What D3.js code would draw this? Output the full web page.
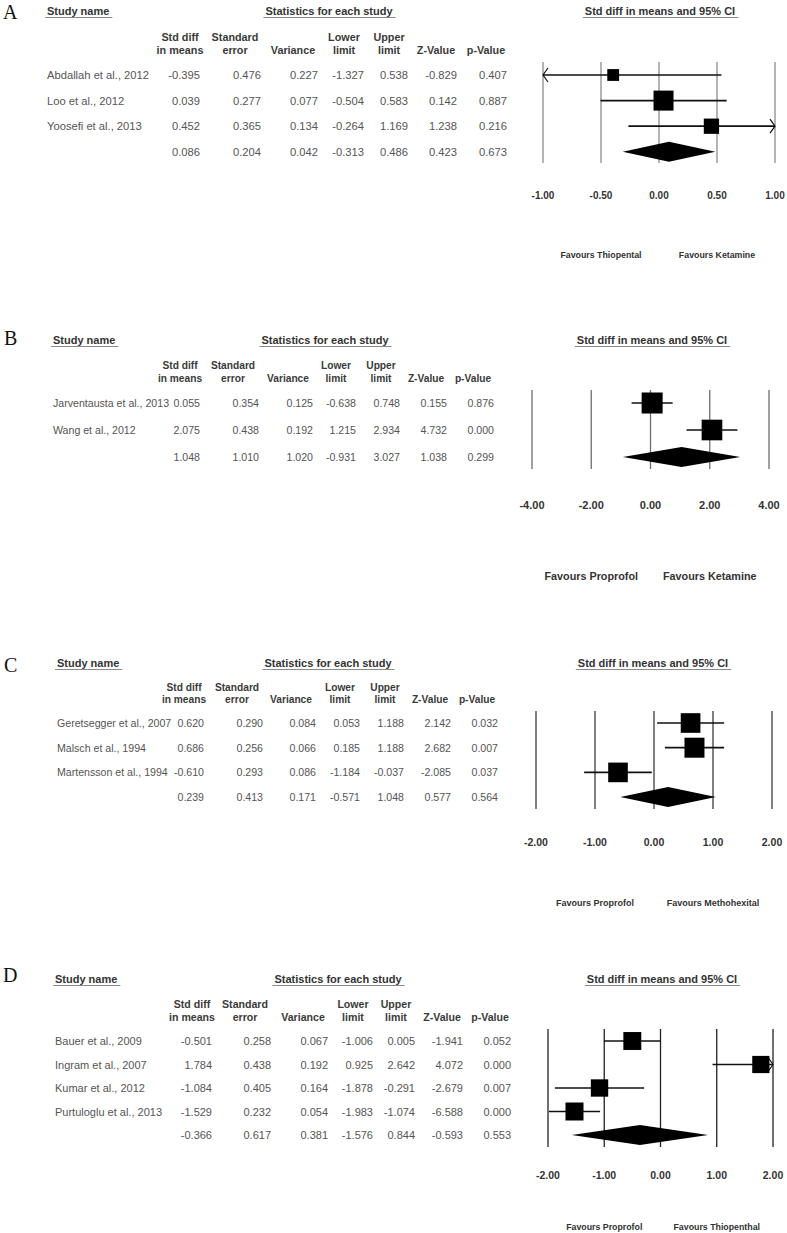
<!DOCTYPE html>
<html><head><meta charset="utf-8">
<script src="https://cdn.jsdelivr.net/npm/d3@7"></script>
<style>body{margin:0;background:#fff}</style></head>
<body><svg id="c" width="787" height="1233"></svg>
<script>
// ---------- DATA ----------
const headerLine1 = ["Std diff","Standard","","Lower","Upper","",""];
const headerLine2 = ["in means","error","Variance","limit","limit","Z-Value","p-Value"];
const studyHeader = "Study name";
const statsHeader = "Statistics for each study";
const plotHeader = "Std diff in means and 95% CI";

// Panel A
const namesA = ["Abdallah et al., 2012","Loo et al., 2012","Yoosefi et al., 2013",""];
const stdDiffA = [-0.395,0.039,0.452,0.086];
const stdErrA = [0.476,0.277,0.365,0.204];
const varianceA = [0.227,0.077,0.134,0.042];
const lowerA = [-1.327,-0.504,-0.264,-0.313];
const upperA = [0.538,0.583,1.169,0.486];
const zA = [-0.829,0.142,1.238,0.423];
const pA = [0.407,0.887,0.216,0.673];
const ticksA = [-1,-0.5,0,0.5,1];
const favoursA = ["Favours Thiopental","Favours Ketamine"];

// Panel B
const namesB = ["Jarventausta et al., 2013","Wang et al., 2012",""];
const stdDiffB = [0.055,2.075,1.048];
const stdErrB = [0.354,0.438,1.010];
const varianceB = [0.125,0.192,1.020];
const lowerB = [-0.638,1.215,-0.931];
const upperB = [0.748,2.934,3.027];
const zB = [0.155,4.732,1.038];
const pB = [0.876,0.000,0.299];
const ticksB = [-4,-2,0,2,4];
const favoursB = ["Favours Proprofol","Favours Ketamine"];

// Panel C
const namesC = ["Geretsegger et al., 2007","Malsch et al., 1994","Martensson et al., 1994",""];
const stdDiffC = [0.620,0.686,-0.610,0.239];
const stdErrC = [0.290,0.256,0.293,0.413];
const varianceC = [0.084,0.066,0.086,0.171];
const lowerC = [0.053,0.185,-1.184,-0.571];
const upperC = [1.188,1.188,-0.037,1.048];
const zC = [2.142,2.682,-2.085,0.577];
const pC = [0.032,0.007,0.037,0.564];
const ticksC = [-2,-1,0,1,2];
const favoursC = ["Favours Proprofol","Favours Methohexital"];

// Panel D
const namesD = ["Bauer et al., 2009","Ingram et al., 2007","Kumar et al., 2012","Purtuloglu et al., 2013",""];
const stdDiffD = [-0.501,1.784,-1.084,-1.529,-0.366];
const stdErrD = [0.258,0.438,0.405,0.232,0.617];
const varianceD = [0.067,0.192,0.164,0.054,0.381];
const lowerD = [-1.006,0.925,-1.878,-1.983,-1.576];
const upperD = [0.005,2.642,-0.291,-1.074,0.844];
const zD = [-1.941,4.072,-2.679,-6.588,-0.593];
const pD = [0.052,0.000,0.007,0.000,0.553];
const ticksD = [-2,-1,0,1,2];
const favoursD = ["Favours Proprofol","Favours Thiopenthal"];

const panels = [
  {label:"A", names:namesA, cols:[stdDiffA,stdErrA,varianceA,lowerA,upperA,zA,pA], ticks:ticksA, favours:favoursA},
  {label:"B", names:namesB, cols:[stdDiffB,stdErrB,varianceB,lowerB,upperB,zB,pB], ticks:ticksB, favours:favoursB},
  {label:"C", names:namesC, cols:[stdDiffC,stdErrC,varianceC,lowerC,upperC,zC,pC], ticks:ticksC, favours:favoursC},
  {label:"D", names:namesD, cols:[stdDiffD,stdErrD,varianceD,lowerD,upperD,zD,pD], ticks:ticksD, favours:favoursD}
];

// ---------- LAYOUT ----------
const layouts = [
  {letterX:3, letterY:19, nameX:47, headY:15, statsCX:329, hy1:41, hy2:54, row0:75, rowStep:25.6,
   colRight:[200,261,318,364,408,457,507], fs:11.2, plot:[543,775], titleCX:660, lineTop:62, lineBot:163,
   tickY:199, tickFs:10, favY:258, favFs:8.8, boxMax:20, lineColor:"#8c8c8c"},
  {letterX:4, letterY:345, nameX:53, headY:344, statsCX:325, hy1:369, hy2:382, row0:403, rowStep:27,
   colRight:[200,259,313,356,400,447,494], fs:10.6, plot:[532,769], titleCX:652, lineTop:390, lineBot:469,
   tickY:509, tickFs:11, favY:580, favFs:10.8, boxMax:21, lineColor:"#6e6e6e"},
  {letterX:4, letterY:672, nameX:57, headY:667, statsCX:328, hy1:691, hy2:703, row0:723, rowStep:24.7,
   colRight:[204,263,316,360,404,451,498], fs:10.6, plot:[536,772], titleCX:653, lineTop:711, lineBot:809,
   tickY:846, tickFs:10.5, favY:906, favFs:9, boxMax:20, lineColor:"#3c3c3c"},
  {letterX:3, letterY:982, nameX:55, headY:983, statsCX:338, hy1:1008, hy2:1021, row0:1041, rowStep:23.5,
   colRight:[212,271,328,373,415,463,511], fs:11, plot:[548,773], titleCX:662, lineTop:1029, lineBot:1147,
   tickY:1179, tickFs:10.5, favY:1230, favFs:8.8, boxMax:18, lineColor:"#222"}
];
const headerOffset = [20,26,25,20,19,21,21];

const svg = d3.select("#c");
const SANS = "'Liberation Sans', Arial, sans-serif";
const fmt3 = v => v.toFixed(3);
const fmt2 = v => v.toFixed(2);

function underlined(g, x, y, txt, anchor, size){
  const t = g.append("text").attr("x",x).attr("y",y).attr("text-anchor",anchor)
    .attr("font-family",SANS).attr("font-weight","bold").attr("font-size",size).attr("fill","#333").text(txt);
  const w = t.node().getComputedTextLength();
  const x0 = anchor==="middle" ? x - w/2 : x;
  g.append("line").attr("x1",x0-2).attr("x2",x0+w+3).attr("y1",y+2.5).attr("y2",y+2.5)
    .attr("stroke","#8a8a8a").attr("stroke-width",1);
}

// DerSimonian-Laird random-effects weights from the study rows
function reWeights(eff, v){
  const w = v.map(d=>1/d);
  const sw = d3.sum(w);
  const m = d3.sum(eff.map((e,i)=>e*w[i]))/sw;
  const Q = d3.sum(eff.map((e,i)=>w[i]*(e-m)*(e-m)));
  const C = sw - d3.sum(w.map(d=>d*d))/sw;
  const tau2 = Math.max(0,(Q-(eff.length-1))/C);
  return v.map(d=>1/(d+tau2));
}

panels.forEach((p,pi)=>{
  const L = layouts[pi];
  const g = svg.append("g");
  const n = p.names.length;
  const rowY = i => L.row0 + i*L.rowStep;

  g.append("text").attr("x",L.letterX).attr("y",L.letterY)
    .attr("font-family","'Liberation Serif','DejaVu Serif',serif").attr("font-size",20).attr("fill","#111").text(p.label);

  underlined(g, L.nameX, L.headY, studyHeader, "start", 11);
  underlined(g, L.statsCX, L.headY, statsHeader, "middle", 11);
  underlined(g, L.titleCX, L.headY, plotHeader, "middle", 11);

  // column headers
  headerLine1.forEach((h,j)=>{
    const cx = L.colRight[j]-headerOffset[j];
    if(h) g.append("text").attr("x",cx).attr("y",L.hy1).attr("text-anchor","middle")
      .attr("font-family",SANS).attr("font-size",L.fs-0.4).attr("font-weight","bold").attr("fill","#3a3a3a").text(h);
    g.append("text").attr("x",cx).attr("y",L.hy2).attr("text-anchor","middle")
      .attr("font-family",SANS).attr("font-size",L.fs-0.4).attr("font-weight","bold").attr("fill","#3a3a3a").text(headerLine2[j]);
  });

  // rows
  p.names.forEach((nm,i)=>{
    const y = rowY(i)+4;
    if(nm) g.append("text").attr("x",L.nameX).attr("y",y).attr("font-family",SANS)
      .attr("font-size",L.fs).attr("fill","#555").text(nm);
    p.cols.forEach((col,j)=>{
      g.append("text").attr("x",L.colRight[j]).attr("y",y).attr("text-anchor","end")
        .attr("font-family",SANS).attr("font-size",L.fs).attr("fill","#555").text(fmt3(col[i]));
    });
  });

  // forest plot
  const dom = d3.extent(p.ticks);
  const x = d3.scaleLinear().domain(dom).range(L.plot);
  g.selectAll(null).data(p.ticks).enter().append("line")
    .attr("x1",d=>x(d)).attr("x2",d=>x(d)).attr("y1",L.lineTop).attr("y2",L.lineBot)
    .attr("stroke",L.lineColor).attr("stroke-width",1.3);

  g.selectAll(null).data(p.ticks).enter().append("text")
    .attr("x",d=>x(d)).attr("y",L.tickY).attr("text-anchor","middle")
    .attr("font-family",SANS).attr("font-weight","bold").attr("font-size",L.tickFs).attr("fill","#333")
    .text(fmt2);

  [p.favours[0],p.favours[1]].forEach((f,k)=>{
    g.append("text").attr("x",x(p.ticks[k===0?1:3])).attr("y",L.favY).attr("text-anchor","middle")
      .attr("font-family",SANS).attr("font-weight","bold").attr("font-size",L.favFs).attr("fill","#333").text(f);
  });

  const eff = p.cols[0], lo = p.cols[3], hi = p.cols[4], vr = p.cols[2];
  const studyEff = eff.slice(0,n-1), studyVar = vr.slice(0,n-1);
  const w = reWeights(studyEff, studyVar);
  const wmax = d3.max(w);

  for(let i=0;i<n-1;i++){
    const y = rowY(i);
    const l = Math.max(lo[i],dom[0]), h = Math.min(hi[i],dom[1]);
    g.append("line").attr("x1",x(l)).attr("x2",x(h)).attr("y1",y).attr("y2",y)
      .attr("stroke","#111").attr("stroke-width",1.7);
    if(lo[i]<dom[0]){
      const ax = x(dom[0]);
      g.append("path").attr("d",`M${ax+5},${y-7}L${ax},${y}L${ax+5},${y+7}`)
        .attr("fill","none").attr("stroke","#111").attr("stroke-width",1.2);
    }
    if(hi[i]>dom[1]){
      const ax = x(dom[1]);
      g.append("path").attr("d",`M${ax-5},${y-7}L${ax},${y}L${ax-5},${y+7}`)
        .attr("fill","none").attr("stroke","#111").attr("stroke-width",1.2);
    }
    const s = L.boxMax*Math.sqrt(w[i]/wmax);
    g.append("rect").attr("x",x(eff[i])-s/2).attr("y",y-s/2).attr("width",s).attr("height",s)
      .attr("fill","#000");
  }
  // summary diamond
  const k = n-1, yd = rowY(k), hh = 10;
  g.append("path").attr("d",`M${x(lo[k])},${yd}L${x(eff[k])},${yd-hh}L${x(hi[k])},${yd}L${x(eff[k])},${yd+hh}Z`)
    .attr("fill","#000");
});
</script></body></html>
